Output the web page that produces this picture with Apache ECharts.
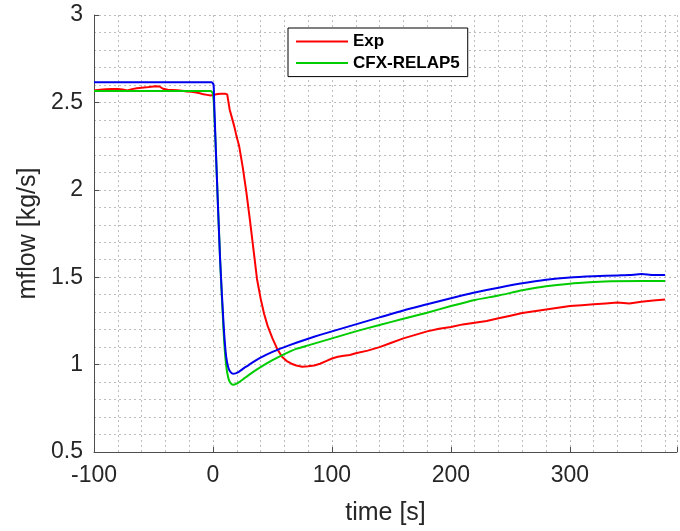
<!DOCTYPE html>
<html>
<head>
<meta charset="utf-8">
<script src="https://cdn.jsdelivr.net/npm/echarts@6/dist/echarts.min.js"></script>
<style>
html,body{margin:0;padding:0;background:#fff;}
#chart{width:680px;height:531px;}
</style>
</head>
<body>
<div id="chart"></div>
<script>
// ---- data ----
const xTicks = [-100, 0, 100, 200, 300];
const yTicks = [0.5, 1, 1.5, 2, 2.5, 3];

const expT = [-100,-95,-90,-85,-80,-76,-72,-68,-64,-60,-56,-52,-48,-45,-42,-38,-34,-30,-26,-22,-18,-14,-11,-8,-5,-2,1,4,7,10,12,14,16,18,20,22,25,28,31,34,37,40,43,46,50,54,58,62,66,70,75,80,85,90,95,100,105,110,115,120,130,140,150,160,170,180,190,200,210,220,230,240,250,260,270,280,290,300,310,320,330,340,350,360,370,380];
const expV = [2.568,2.572,2.575,2.577,2.576,2.574,2.568,2.576,2.581,2.584,2.586,2.590,2.593,2.591,2.578,2.572,2.571,2.570,2.566,2.562,2.561,2.556,2.552,2.546,2.543,2.540,2.544,2.548,2.549,2.550,2.545,2.46,2.41,2.36,2.30,2.25,2.13,1.99,1.83,1.66,1.49,1.38,1.29,1.22,1.15,1.09,1.045,1.02,1.005,0.995,0.988,0.99,0.995,1.005,1.02,1.035,1.045,1.05,1.055,1.065,1.08,1.10,1.125,1.15,1.17,1.19,1.205,1.215,1.23,1.24,1.25,1.265,1.28,1.295,1.305,1.315,1.325,1.335,1.34,1.345,1.35,1.355,1.35,1.36,1.367,1.372];

const cfxT = [-100,-50,-2,0,1,3,6,9,11,13,15,17,19,22,26,30,40,50,60,70,80,90,100,120,140,160,180,200,220,240,260,280,300,320,335,360,380];
const cfxV = [2.565,2.565,2.565,2.55,2.45,2.12,1.6,1.18,1.0,0.92,0.892,0.885,0.888,0.9,0.92,0.94,0.985,1.025,1.06,1.09,1.11,1.13,1.15,1.19,1.227,1.262,1.297,1.335,1.37,1.395,1.425,1.448,1.463,1.472,1.477,1.478,1.478];

const simT = [-100,-50,-1,0.5,1,3,6,9,11,13,15,17,19,22,26,30,35,40,50,60,70,80,90,100,120,140,160,180,200,220,240,260,280,300,320,340,350,360,365,370,380];
const simV = [2.615,2.615,2.615,2.6,2.5,2.12,1.6,1.22,1.05,0.98,0.955,0.948,0.95,0.96,0.98,0.997,1.02,1.04,1.073,1.1,1.125,1.148,1.17,1.19,1.23,1.27,1.31,1.345,1.38,1.412,1.44,1.465,1.485,1.498,1.505,1.51,1.512,1.518,1.516,1.512,1.512];

const seriesNames = ['Exp', 'CFX-RELAP5', ''];

const pairs = (t, v) => t.map((x, i) => [x, v[i]]);

const FONT = '"Liberation Sans", Arial, Helvetica, sans-serif';
const TXT = '#262626';
const gridDot = { show: true, lineStyle: { color: '#bdbdbd', width: 1, type: [2, 3] } };

const chart = echarts.init(document.getElementById('chart'), null, { renderer: 'canvas' });
chart.setOption({
  animation: false,
  backgroundColor: '#ffffff',
  textStyle: { fontFamily: FONT },
  grid: { left: 94, right: 2, top: 15, bottom: 79, containLabel: false },
  legend: {
    data: seriesNames.slice(0, 2),
    orient: 'vertical',
    left: 288, top: 28,
    icon: 'rect', itemWidth: 52, itemHeight: 2, itemGap: 4.6,
    padding: [5, 8, 5, 8],
    backgroundColor: '#ffffff', borderColor: '#000000', borderWidth: 1,
    textStyle: { fontFamily: FONT, fontSize: 17, fontWeight: 'bold', color: '#000', lineHeight: 17 }
  },
  xAxis: [
    {
      type: 'value', min: -100, max: 390, interval: 100,
      name: 'time [s]', nameLocation: 'middle', nameGap: 49,
      nameTextStyle: { fontFamily: FONT, fontSize: 25, color: TXT },
      axisLine: { show: true, onZero: false, lineStyle: { color: '#4d4d4d', width: 1 } },
      axisTick: { show: true, inside: true, length: 5, lineStyle: { color: '#4d4d4d' } },
      axisLabel: { fontFamily: FONT, fontSize: 23, color: TXT, margin: 12,
        formatter: v => (xTicks.indexOf(v) >= 0 ? String(v) : '') },
      splitLine: { show: false }
    },
    {
      type: 'value', min: -100, max: 390, interval: 20, position: 'bottom',
      axisLine: { show: false }, axisTick: { show: false }, axisLabel: { show: false },
      splitLine: gridDot
    }
  ],
  yAxis: [
    {
      type: 'value', min: 0.5, max: 3, interval: 0.5,
      name: 'mflow [kg/s]', nameLocation: 'middle', nameGap: 47,
      nameTextStyle: { fontFamily: FONT, fontSize: 25, color: TXT },
      axisLine: { show: true, onZero: false, lineStyle: { color: '#4d4d4d', width: 1 } },
      axisTick: { show: true, inside: true, length: 5, lineStyle: { color: '#4d4d4d' } },
      axisLabel: { fontFamily: FONT, fontSize: 23, color: TXT, margin: 11,
        formatter: v => { const f = yTicks.find(y => Math.abs(y - v) < 1e-9); return f === undefined ? '' : String(f); } },
      splitLine: { show: false }
    },
    {
      type: 'value', min: 0.5, max: 3, interval: 0.1, position: 'left',
      axisLine: { show: false }, axisTick: { show: false }, axisLabel: { show: false },
      splitLine: gridDot
    }
  ],
  series: [
    { name: seriesNames[0], type: 'line', data: pairs(expT, expV), showSymbol: false, symbol: 'none',
      lineStyle: { color: '#ff0000', width: 2 }, itemStyle: { color: '#ff0000' }, z: 3 },
    { name: seriesNames[1], type: 'line', data: pairs(cfxT, cfxV), showSymbol: false, symbol: 'none', smooth: 0.2,
      lineStyle: { color: '#00cc00', width: 2 }, itemStyle: { color: '#00cc00' }, z: 4 },
    { name: 'sim', type: 'line', data: pairs(simT, simV), showSymbol: false, symbol: 'none', smooth: 0.2,
      lineStyle: { color: '#0000ee', width: 2 }, itemStyle: { color: '#0000ee' }, z: 5 }
  ]
});
</script>
</body>
</html>
